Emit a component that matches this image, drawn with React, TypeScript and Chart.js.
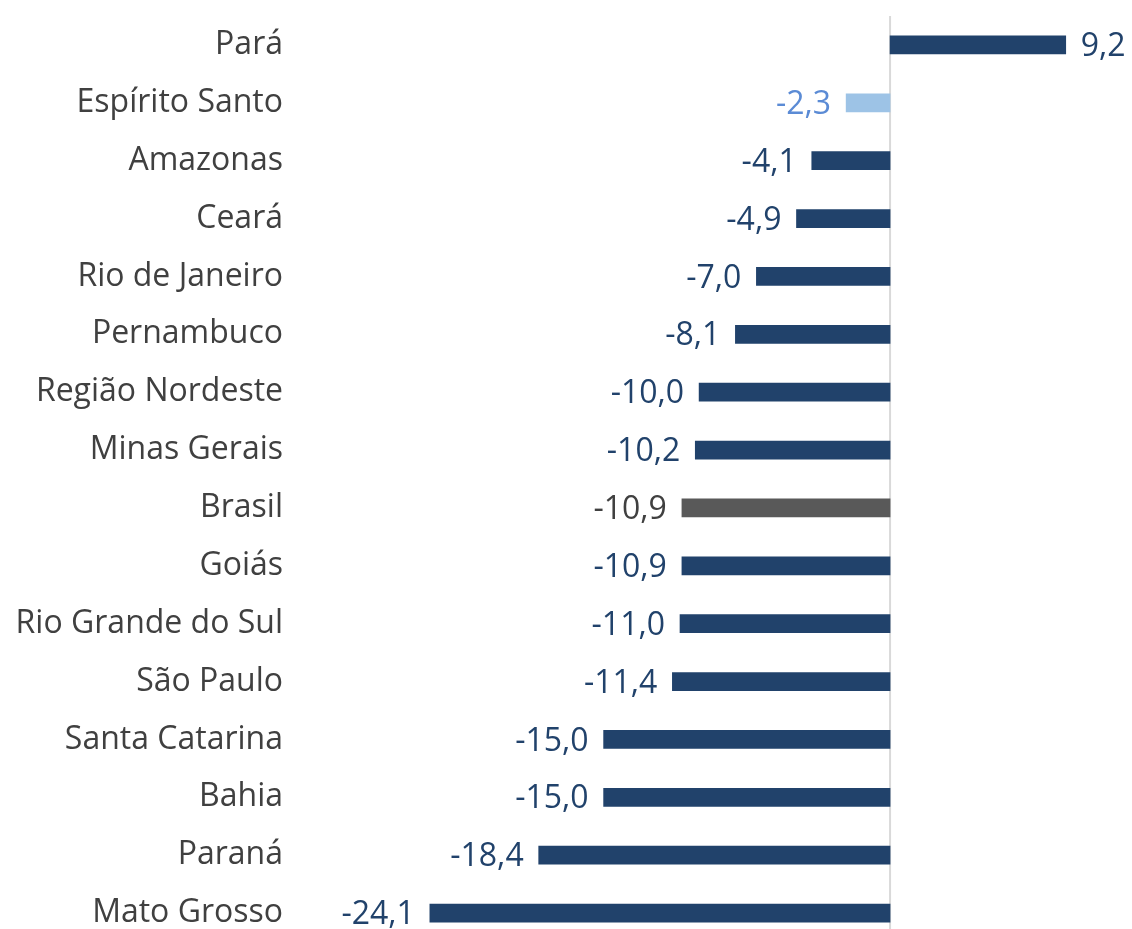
import React, { useEffect, useRef } from "react";
import { Chart, registerables } from "chart.js";

Chart.register(...registerables);

const categories = [
  "Pará", "Espírito Santo", "Amazonas", "Ceará", "Rio de Janeiro", "Pernambuco",
  "Região Nordeste", "Minas Gerais", "Brasil", "Goiás", "Rio Grande do Sul",
  "São Paulo", "Santa Catarina", "Bahia", "Paraná", "Mato Grosso",
];
const values = [9.2, -2.3, -4.1, -4.9, -7.0, -8.1, -10.0, -10.2, -10.9, -10.9, -11.0, -11.4, -15.0, -15.0, -18.4, -24.1];

const NAVY = "#21426B";
const LIGHT = "#9DC3E6";
const GRAY = "#595959";
const barColors = categories.map((c) => (c === "Brasil" ? GRAY : c === "Espírito Santo" ? LIGHT : NAVY));
const labelColors = categories.map((c) => (c === "Brasil" ? "#404040" : c === "Espírito Santo" ? "#5B8BD5" : NAVY));

const FONT = "'Open Sans', sans-serif";
const FS = 32;

const fmt = (v: number) => v.toFixed(1).replace(".", ",");

const labelPlugin = {
  id: "valueLabels",
  beforeDatasetsDraw(chart: any) {
    const ctx = chart.ctx;
    const x = chart.scales.x.getPixelForValue(0);
    ctx.save();
    ctx.strokeStyle = "#D9D9D9";
    ctx.lineWidth = 2;
    ctx.beginPath();
    ctx.moveTo(x, chart.chartArea.top);
    ctx.lineTo(x, chart.chartArea.bottom);
    ctx.stroke();
    ctx.restore();
  },
  afterDatasetsDraw(chart: any) {
    const ctx = chart.ctx;
    const meta = chart.getDatasetMeta(0);
    ctx.save();
    ctx.font = `${FS}px ${FONT}`;
    ctx.textBaseline = "middle";
    meta.data.forEach((bar: any, i: number) => {
      const v = values[i];
      ctx.fillStyle = labelColors[i];
      if (v >= 0) {
        ctx.textAlign = "left";
        ctx.fillText(fmt(v), bar.x + 15, bar.y + 2);
      } else {
        ctx.textAlign = "right";
        ctx.fillText(fmt(v), bar.x - 15, bar.y + 2);
      }
    });
    ctx.restore();
  },
};

export default function App() {
  const ref = useRef<HTMLCanvasElement>(null);
  useEffect(() => {
    document.body.style.margin = "0";
    const chart = new Chart(ref.current!, {
      type: "bar",
      data: {
        labels: categories,
        datasets: [
          {
            data: values,
            backgroundColor: barColors,
            borderWidth: 0,
            barThickness: 18,
          },
        ],
      },
      options: {
        indexAxis: "y",
        animation: false,
        responsive: false,
        maintainAspectRatio: false,
        layout: { padding: { top: 16, bottom: 3, left: 0, right: 0 } },
        plugins: { legend: { display: false }, tooltip: { enabled: false } },
        scales: {
          x: {
            min: -30.9,
            max: 12.67,
            display: false,
          },
          y: {
            border: { display: false },
            grid: { display: false, drawTicks: false },
            afterFit: (s: any) => {
              s.width = 300;
              s.paddingTop = 0;
              s.paddingBottom = 0;
            },
            ticks: {
              color: "#404040",
              font: { family: FONT, size: FS },
              padding: 17,
            },
          },
        },
      },
      plugins: [labelPlugin],
    });
    return () => chart.destroy();
  }, []);
  return (
    <div style={{ position: "absolute", left: 0, top: 0, width: 1132, height: 929, overflow: "hidden" }}>
      <canvas ref={ref} width={1132} height={945} style={{ display: "block", width: 1132, height: 945 }} />
    </div>
  );
}
